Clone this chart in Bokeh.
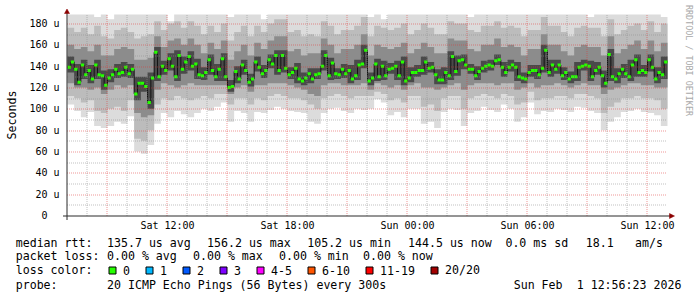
import numpy as np
from math import pi
from bokeh.plotting import figure
from bokeh.models import Range1d
from bokeh.core.properties import value
from bokeh.embed import file_html
from bokeh.resources import INLINE

# ---------------- data ----------------
# time in hours counted from Sat 00:00
start_hour = 7.0          # Sat 07:00
end_hour = 37.0           # Sun 13:00
median_step_min = 10
smoke_step_min = 20
graph_top = 188.4         # upper limit of the graph (us)

median_rtt = [
    139, 144, 137, 125, 141, 132, 136, 128, 141, 132,
    131, 122, 129, 132, 137, 133, 134, 139, 133, 137,
    114, 124, 124, 121, 106, 129, 153, 130, 140, 136,
    147, 140, 130, 150, 137, 144, 149, 140, 142, 132,
    131, 134, 146, 136, 130, 137,
    147, 130, 120, 121, 135, 128, 141, 136, 125, 128,
    144, 139, 133, 136, 146, 142, 150, 136, 150, 138,
    132, 134, 138, 128, 126, 129, 133, 128, 132, 133,
    140, 150, 131, 143, 133, 132, 137, 133, 136, 128,
    131, 141, 142, 155, 126, 129,
    142, 130, 140, 131, 137, 138, 140, 131, 144, 126,
    129, 134, 134, 136, 136, 144, 138, 139, 132, 127,
    127, 134, 131, 149, 135, 145, 146, 141, 137, 137,
    131, 135, 138, 140, 141, 140, 145, 146, 139, 134,
    139, 141, 139, 130, 129, 128,
    134, 136, 136, 132, 138, 155, 134, 141, 137, 141,
    131, 134, 128, 130, 130, 139, 140, 141, 140, 130,
    136, 139, 131, 124, 151, 130, 128, 133, 137, 133,
    130, 141, 146, 134, 136, 134, 146, 139, 128, 134,
    132, 144,
]

# smoke: spread of the 20 pings, outer (lo1/hi1) to inner (lo4/hi4)
smoke_lo1 = [
    104, 98, 92, 97, 84, 82, 84, 88, 86, 93, 60, 58, 66, 86, 96, 92, 98, 95, 92, 96, 100, 98, 102,
    106, 88, 98, 96, 88, 97, 96, 99, 102, 100, 98, 97, 96, 88, 86, 96, 100, 101, 98, 96, 100, 99, 100,
    109, 106, 94, 97, 92, 100, 100, 86, 88, 82, 97, 100, 99, 84, 96, 98, 102, 99, 97, 104, 100, 88, 92,
    106, 95, 98, 97, 100, 99, 97, 102, 101, 98, 96, 80, 88, 92, 97, 98, 100, 97, 96, 94, 84,
]
smoke_lo2 = [
    112, 110, 106, 108, 98, 96, 100, 102, 98, 108, 72, 70, 80, 104, 110, 108, 112, 110, 108, 110, 112, 110, 114,
    114, 104, 110, 110, 104, 110, 108, 112, 114, 112, 110, 110, 108, 104, 100, 110, 112, 114, 112, 110, 112, 112, 112,
    116, 114, 108, 110, 106, 112, 112, 102, 104, 98, 110, 112, 112, 100, 110, 112, 114, 112, 110, 114, 112, 104, 106,
    116, 108, 110, 110, 112, 112, 110, 114, 114, 112, 110, 96, 102, 106, 110, 110, 112, 110, 110, 108, 100,
]
smoke_lo3 = [
    124, 120, 120, 118, 120, 114, 118, 122, 120, 122, 96, 92, 94, 118, 124, 122, 120, 122, 124, 122, 122, 122, 122,
    122, 114, 120, 122, 116, 122, 122, 124, 124, 124, 122, 120, 118, 114, 112, 122, 124, 124, 122, 122, 122, 124, 118,
    124, 122, 120, 122, 118, 122, 124, 120, 120, 118, 120, 122, 124, 118, 122, 124, 124, 124, 122, 124, 124, 118, 120,
    124, 120, 122, 122, 124, 122, 120, 122, 124, 122, 122, 114, 118, 120, 122, 124, 124, 122, 122, 120, 120,
]
smoke_lo4 = [
    134, 122, 128, 124, 128, 118, 125, 129, 130, 129, 108, 116, 100, 126, 132, 136, 126, 133, 136, 128, 127, 132, 126,
    126, 116, 124, 132, 121, 135, 129, 138, 132, 134, 128, 124, 122, 124, 128, 136, 127, 128, 129, 124, 127, 138, 122,
    126, 127, 133, 127, 122, 125, 130, 132, 134, 123, 123, 127, 131, 137, 133, 127, 134, 136, 141, 130, 135, 126, 124,
    130, 128, 134, 130, 133, 127, 124, 126, 136, 126, 132, 120, 126, 124, 129, 126, 130, 130, 135, 124, 128,
]
smoke_hi4 = [
    149, 142, 146, 141, 146, 136, 137, 142, 144, 142, 130, 130, 134, 158, 145, 152, 155, 149, 154, 147, 139, 151, 142,
    152, 127, 140, 146, 133, 149, 141, 151, 155, 155, 139, 143, 134, 138, 138, 155, 148, 138, 142, 141, 146, 160, 134,
    147, 145, 143, 145, 149, 139, 141, 149, 144, 137, 139, 154, 150, 151, 142, 140, 145, 146, 151, 144, 146, 144, 134,
    141, 141, 160, 146, 146, 139, 135, 144, 146, 145, 144, 136, 156, 138, 142, 146, 151, 141, 151, 139, 149,
]
smoke_hi3 = [
    160, 156, 158, 154, 160, 150, 150, 156, 158, 156, 146, 146, 148, 168, 158, 164, 166, 160, 166, 160, 152, 162, 156,
    164, 146, 154, 160, 150, 162, 156, 164, 168, 168, 154, 156, 150, 152, 152, 166, 160, 152, 156, 156, 160, 170, 150,
    160, 158, 156, 158, 162, 152, 156, 162, 158, 152, 152, 166, 164, 164, 156, 154, 160, 160, 166, 158, 160, 158, 150,
    156, 156, 170, 160, 160, 154, 150, 158, 160, 158, 158, 150, 168, 152, 156, 160, 164, 156, 164, 154, 162,
]
smoke_hi2 = [
    176, 172, 176, 170, 178, 168, 166, 174, 176, 172, 166, 168, 170, 182, 174, 180, 182, 176, 182, 178, 170, 178, 172,
    180, 164, 172, 178, 168, 178, 172, 180, 184, 184, 172, 174, 168, 170, 168, 182, 178, 170, 174, 174, 178, 186, 168,
    178, 176, 174, 176, 180, 170, 174, 180, 176, 170, 170, 182, 180, 180, 174, 172, 178, 178, 182, 176, 178, 176, 168,
    174, 174, 186, 178, 178, 172, 168, 176, 178, 176, 176, 168, 184, 170, 174, 178, 180, 174, 182, 172, 180,
]
smoke_hi1 = [
    190, 190, 190, 190, 186, 190, 184, 190, 190, 190, 190, 190, 190, 190, 190, 182, 190, 190, 190, 190, 190, 190, 190,
    190, 186, 190, 190, 190, 190, 184, 190, 190, 190, 190, 190, 190, 190, 190, 190, 190, 190, 190, 190, 190, 190, 186,
    190, 184, 190, 190, 190, 190, 190, 190, 190, 190, 190, 190, 190, 190, 186, 190, 190, 190, 190, 190, 190, 190, 190,
    190, 190, 190, 190, 190, 190, 190, 190, 190, 186, 190, 190, 190, 190, 190, 190, 190, 190, 190, 190, 186,
]

y_ticks = [0, 20, 40, 60, 80, 100, 120, 140, 160, 180]
y_tick_labels = ["0\u00a0\u00a0", "20 u", "40 u", "60 u", "80 u", "100 u", "120 u", "140 u", "160 u", "180 u"]
x_tick_hours = [12, 18, 24, 30, 36]
x_tick_labels = ["Sat 12:00", "Sat 18:00", "Sun 00:00", "Sun 06:00", "Sun 12:00"]

y_axis_label = "Seconds"
watermark = "RRDTOOL / TOBI OETIKER"

legend_median = [("median rtt:", 16), ("135.7 us avg", 107.3), ("156.2 us max", 207.3),
                 ("105.2 us min", 307.5), ("144.5 us now", 408.3), ("0.0 ms sd", 505.7),
                 ("18.1", 586), ("am/s", 635.3)]
legend_loss = [("packet loss:", 16), ("0.00 % avg", 107.3), ("0.00 % max", 193.3),
               ("0.00 % min", 279.3), ("0.00 % now", 363.3)]
loss_title = "loss color:"
loss_labels = ["0", "1", "2", "3", "4-5", "6-10", "11-19", "20/20"]
loss_colors = ["#26ff00", "#00b8ff", "#0059ff", "#7e00ff", "#ff00ff", "#ff5500", "#ff0000", "#a10000"]
loss_box_x = [108.5, 145.5, 182.5, 219.5, 256.5, 307.5, 365.5, 430.5]
legend_probe = [("probe:", 16), ("20 ICMP Echo Pings (56 Bytes) every 300s", 107.3),
                ("Sun Feb", 514), ("1 12:56:23 2026", 577.0)]

# ---------------- layout ----------------
W, H = 697, 297
X0_PX, Y0_PX = 67, 215          # pixel of (start_hour, 0 us)
PX_PER_H = 20.0
PX_PER_U = 192.0 / 180.0
FONT = "DejaVu Sans Mono"
LFS = "11.6px"

def hx(px):
    return start_hour + (np.asarray(px, dtype=float) - X0_PX) / PX_PER_H

def vy(py):
    return (Y0_PX - np.asarray(py, dtype=float)) / PX_PER_U

def grid_y(v):
    return vy(np.round(Y0_PX - np.asarray(v, dtype=float) * PX_PER_U) + 0.5)

def grid_x(h):
    return hx(X0_PX - 0.5 + (np.asarray(h, dtype=float) - start_hour) * PX_PER_H)

p = figure(width=W, height=H,
           x_range=Range1d(float(hx(0)), float(hx(W))), y_range=Range1d(float(vy(H)), float(vy(0))),
           output_backend="svg", toolbar_location=None, x_axis_type=None, y_axis_type=None,
           min_border_left=0, min_border_right=0, min_border_top=0, min_border_bottom=0,
           background_fill_color="white", border_fill_color="white",
           outline_line_color=None)
p.grid.visible = False

# smoke
s_edges = start_hour + np.arange(len(smoke_lo1) + 1) * smoke_step_min / 60.0
bands = [(smoke_lo1, smoke_hi1, "#dcdcdc"), (smoke_lo2, smoke_hi2, "#bcbcbc"),
         (smoke_lo3, smoke_hi3, "#8c8c8c"), (smoke_lo4, smoke_hi4, "#4a4a4a")]
for lo, hi, col in bands:
    lo_a = np.array(lo, dtype=float)
    hi_a = np.minimum(np.array(hi, dtype=float), graph_top)
    p.varea_step(x=s_edges, y1=np.append(lo_a, lo_a[-1]), y2=np.append(hi_a, hi_a[-1]),
                 step_mode="after", fill_color=col)

# median
med = np.array(median_rtt, dtype=float)
m_left = start_hour + np.arange(len(med)) * median_step_min / 60.0
m_right = m_left + median_step_min / 60.0
p.step(x=np.append(m_left, m_right[-1]), y=np.append(med, med[-1]), mode="after",
       line_color="#151515", line_width=1)
p.quad(left=m_left, right=m_right, bottom=med - 1.4, top=med + 1.4,
       fill_color=loss_colors[0], line_color=None)

# grid (drawn on top, like rrdtool)
minor_levels = [v for v in range(10, 181, 10) if v % 20]
major_levels = list(range(20, 181, 20))
minor_hours = [h for h in range(8, 37) if h % 3]
major_hours = list(range(9, 37, 3))
gx0, gx1 = float(grid_x(start_hour)), float(grid_x(end_hour))
gy0, gy1 = float(grid_y(0)), float(grid_y(graph_top))
p.segment(x0=gx0, x1=gx1, y0=grid_y(minor_levels), y1=grid_y(minor_levels),
          line_color="#8f8f8f", line_alpha=0.55, line_dash="1 1", line_width=1)
p.segment(x0=grid_x(minor_hours), x1=grid_x(minor_hours), y0=gy0, y1=gy1,
          line_color="#8f8f8f", line_alpha=0.55, line_dash="1 1", line_width=1)
p.segment(x0=gx0, x1=gx1, y0=grid_y(major_levels), y1=grid_y(major_levels),
          line_color="#e03030", line_alpha=0.5, line_dash="1 1", line_width=1)
p.segment(x0=grid_x(major_hours), x1=grid_x(major_hours), y0=gy0, y1=gy1,
          line_color="#e03030", line_alpha=0.5, line_dash="1 1", line_width=1)

# axis lines + arrows
axis_col = "#2a2a2a"
p.segment(x0=float(hx(62.5)), x1=float(hx(670)), y0=gy0, y1=gy0, line_color=axis_col, line_width=1)
p.segment(x0=float(grid_x(start_hour)), x1=float(grid_x(start_hour)), y0=float(vy(219.5)),
          y1=float(vy(12)), line_color=axis_col, line_width=1)
arrow_col = "#8b0000"
p.patch(x=hx([669, 674, 669]), y=vy([213, 215.5, 218]),
        fill_color=arrow_col, line_color=arrow_col, line_width=0.5)
p.patch(x=hx([64, 66.5, 69]), y=vy([13, 8.5, 13]),
        fill_color=arrow_col, line_color=arrow_col, line_width=0.5)

# axis tick labels (placed through the data scales)
p.text(x=float(hx(59)), y=y_ticks, text=y_tick_labels, text_align="right", text_baseline="middle",
       text_font=value(FONT), text_font_size=value("10px"), text_color="black")
p.text(x=x_tick_hours, y=float(vy(224.8)), text=x_tick_labels, text_align="center",
       text_baseline="middle", text_font=value(FONT), text_font_size=value("10px"),
       text_color="black")
p.text(x=[float(hx(11))], y=[float(vy(114.5))], text=[y_axis_label], angle=pi / 2,
       text_align="center", text_baseline="middle", text_font=value(FONT),
       text_font_size=value(LFS), text_color="black")

# watermark
p.text(x=[float(hx(688.5))], y=[float(vy(60))], text=[watermark], angle=-pi / 2,
       text_align="center", text_baseline="middle", text_font=value(FONT),
       text_font_size=value("8.4px"), text_color="#a8a8a8")

# legend block
tx, ty, tt = [], [], []
for txt, px in legend_median:
    tx.append(px - 0.8); ty.append(242.2); tt.append(txt)
for txt, px in legend_loss:
    tx.append(px - 0.8); ty.append(255.7); tt.append(txt)
tx.append(15.2); ty.append(269.9); tt.append(loss_title)
for lab, bx in zip(loss_labels, loss_box_x):
    tx.append(bx + 14.8 - 0.8); ty.append(269.9); tt.append(lab)
for txt, px in legend_probe:
    tx.append(px - 0.8); ty.append(284.0); tt.append(txt)
p.text(x=hx(tx), y=vy(ty), text=tt, text_font=value(FONT), text_font_size=value(LFS),
       text_color="black", text_align="left", text_baseline="middle")
bxa = np.array(loss_box_x)
p.quad(left=hx(bxa), right=hx(bxa + 7), top=float(vy(266.5)), bottom=float(vy(273.5)),
       fill_color=loss_colors, line_color="black", line_width=1)

open("out.html", "w").write(file_html(p, INLINE))
